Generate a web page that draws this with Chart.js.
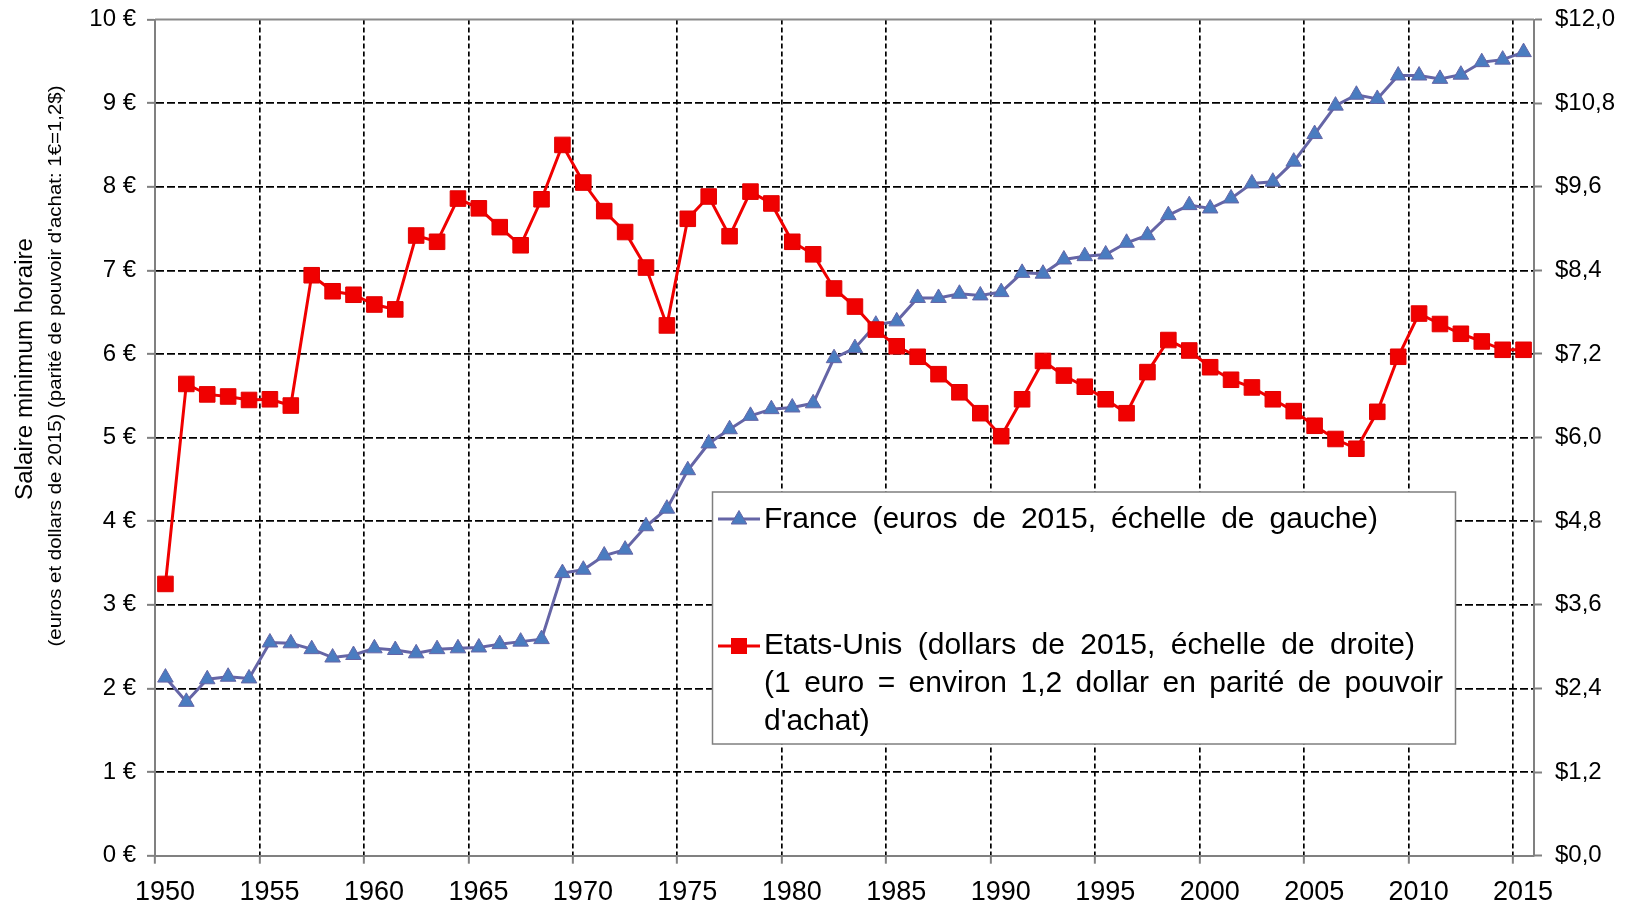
<!DOCTYPE html>
<html>
<head>
<meta charset="utf-8">
<script src="https://cdn.jsdelivr.net/npm/chart.js@4.4.1/dist/chart.umd.min.js"></script>
<style>
  html, body { margin: 0; padding: 0; background: #fff; }
  #wrap { width: 1628px; height: 906px; }
</style>
</head>
<body>
<div id="wrap"><canvas id="chart" width="1628" height="906"></canvas></div>
<script>
// années
const years = [
  1950, 1951, 1952, 1953, 1954, 1955, 1956, 1957, 1958, 1959,
  1960, 1961, 1962, 1963, 1964, 1965, 1966, 1967, 1968, 1969,
  1970, 1971, 1972, 1973, 1974, 1975, 1976, 1977, 1978, 1979,
  1980, 1981, 1982, 1983, 1984, 1985, 1986, 1987, 1988, 1989,
  1990, 1991, 1992, 1993, 1994, 1995, 1996, 1997, 1998, 1999,
  2000, 2001, 2002, 2003, 2004, 2005, 2006, 2007, 2008, 2009,
  2010, 2011, 2012, 2013, 2014, 2015
];

// France, euros de 2015 (échelle de gauche)
const franceEuros = [
  2.13, 1.84, 2.11, 2.14, 2.12, 2.55, 2.54, 2.47, 2.37, 2.40,
  2.48, 2.46, 2.42, 2.47, 2.48, 2.49, 2.53, 2.56, 2.59, 3.38,
  3.42, 3.59, 3.66, 3.94, 4.15, 4.61, 4.93, 5.10, 5.26, 5.34,
  5.36, 5.41, 5.95, 6.07, 6.35, 6.39, 6.67, 6.67, 6.72, 6.70,
  6.74, 6.97, 6.96, 7.13, 7.17, 7.19, 7.33, 7.42, 7.66, 7.78,
  7.74, 7.86, 8.04, 8.06, 8.30, 8.63, 8.97, 9.10, 9.05, 9.33,
  9.33, 9.29, 9.34, 9.49, 9.52, 9.61
];

// Etats-Unis, dollars de 2015 (échelle de droite)
const usDollars = [
  3.90, 6.77, 6.62, 6.59, 6.54, 6.55, 6.46, 8.33, 8.10, 8.05,
  7.91, 7.84, 8.90, 8.81, 9.43, 9.29, 9.02, 8.76, 9.42, 10.20,
  9.66, 9.25, 8.95, 8.44, 7.61, 9.14, 9.46, 8.89, 9.53, 9.36,
  8.81, 8.63, 8.14, 7.88, 7.55, 7.31, 7.16, 6.91, 6.65, 6.35,
  6.02, 6.55, 7.10, 6.89, 6.73, 6.55, 6.35, 6.94, 7.40, 7.25,
  7.01, 6.83, 6.72, 6.55, 6.38, 6.17, 5.98, 5.84, 6.37, 7.16,
  7.78, 7.63, 7.49, 7.38, 7.26, 7.26
];

// graduations
const yearTicks = [1950, 1955, 1960, 1965, 1970, 1975, 1980, 1985, 1990, 1995, 2000, 2005, 2010, 2015];
const euroTicks = [0, 1, 2, 3, 4, 5, 6, 7, 8, 9, 10];
const dollarTicks = [0, 1.2, 2.4, 3.6, 4.8, 6.0, 7.2, 8.4, 9.6, 10.8, 12.0];

const titleMain = 'Salaire minimum horaire';
const titleSub = "(euros et dollars de 2015) (parité de pouvoir d'achat: 1€=1,2$)";
const legendFrance = 'France (euros de 2015, échelle de gauche)';
const legendUS = [
  'Etats-Unis (dollars de 2015, échelle de droite)',
  '(1 euro = environ 1,2 dollar en parité de pouvoir',
  "d'achat)"
];

const FONT = '"Liberation Sans", Arial, sans-serif';
const FRANCE_LINE = '#6565a6';
const FRANCE_FILL = '#4a7cc0';
const US_RED = '#f00000';

// chaque point est placé au milieu de son année
const francePoints = years.map((yr, i) => ({ x: yr + 0.5, y: franceEuros[i] }));
const usPoints = years.map((yr, i) => ({ x: yr + 0.5, y: usDollars[i] }));

function justify(ctx, text, x, y, width) {
  const words = text.split(' ');
  const widths = words.map(w => ctx.measureText(w).width);
  const total = widths.reduce((a, b) => a + b, 0);
  const gap = words.length > 1 ? (width - total) / (words.length - 1) : 0;
  let cx = x;
  words.forEach((w, i) => {
    ctx.fillText(w, cx, y);
    cx += widths[i] + gap;
  });
}

// texte vertical étiré à une longueur donnée
function verticalText(ctx, text, cx, cy, size, length) {
  ctx.save();
  ctx.fillStyle = '#000';
  ctx.textAlign = 'center';
  ctx.textBaseline = 'middle';
  ctx.translate(cx, cy);
  ctx.rotate(-Math.PI / 2);
  ctx.font = size + 'px ' + FONT;
  const w = ctx.measureText(text).width;
  ctx.scale(length / w, 1);
  ctx.fillText(text, 0, 0);
  ctx.restore();
}

// les axes verticaux ne réservent pas de marge pour leurs étiquettes
function fitVertical(width) {
  return s => {
    s.width = width;
    s.paddingTop = 0;
    s.paddingBottom = 0;
  };
}

// titres de l'axe, cadre et légende
const decorations = {
  id: 'decorations',
  afterDraw(chart) {
    const ctx = chart.ctx;
    const area = chart.chartArea;

    // bord supérieur
    ctx.save();
    ctx.strokeStyle = '#8a8a8a';
    ctx.lineWidth = 2;
    ctx.beginPath();
    ctx.moveTo(area.left, area.top);
    ctx.lineTo(area.right, area.top);
    ctx.stroke();
    ctx.restore();

    verticalText(ctx, titleMain, 26, 369, 23, 262);
    verticalText(ctx, titleSub, 56, 366, 18, 561);

    // légende
    const box = { x: 712.5, y: 492, w: 743, h: 252 };
    ctx.save();
    ctx.fillStyle = '#fff';
    ctx.fillRect(box.x, box.y, box.w, box.h);
    ctx.strokeStyle = '#7f7f7f';
    ctx.lineWidth = 1.5;
    ctx.strokeRect(box.x, box.y, box.w, box.h);

    // échantillon France
    ctx.strokeStyle = FRANCE_LINE;
    ctx.lineWidth = 3;
    ctx.beginPath();
    ctx.moveTo(718, 519);
    ctx.lineTo(760, 519);
    ctx.stroke();
    ctx.fillStyle = FRANCE_FILL;
    ctx.lineWidth = 1;
    ctx.beginPath();
    ctx.moveTo(739, 510.5);
    ctx.lineTo(746.8, 524);
    ctx.lineTo(731.2, 524);
    ctx.closePath();
    ctx.fill();
    ctx.stroke();

    // échantillon Etats-Unis
    ctx.strokeStyle = US_RED;
    ctx.lineWidth = 3;
    ctx.beginPath();
    ctx.moveTo(718, 646);
    ctx.lineTo(760, 646);
    ctx.stroke();
    ctx.fillStyle = US_RED;
    ctx.fillRect(731, 638, 16, 16);

    ctx.fillStyle = '#000';
    ctx.font = '30px ' + FONT;
    ctx.textBaseline = 'middle';
    ctx.textAlign = 'left';
    justify(ctx, legendFrance, 764, 520, 614);
    justify(ctx, legendUS[0], 764, 646, 651);
    justify(ctx, legendUS[1], 764, 684, 679);
    ctx.fillText(legendUS[2], 764, 722);
    ctx.restore();
  }
};

new Chart(document.getElementById('chart'), {
  type: 'line',
  data: {
    datasets: [
      {
        label: legendFrance,
        data: francePoints,
        yAxisID: 'y',
        order: 1,
        borderColor: FRANCE_LINE,
        borderWidth: 3,
        pointStyle: 'triangle',
        pointRadius: 9,
        pointBackgroundColor: FRANCE_FILL,
        pointBorderColor: FRANCE_LINE,
        pointBorderWidth: 1,
        tension: 0
      },
      {
        label: legendUS[0],
        data: usPoints,
        yAxisID: 'y2',
        order: 0,
        borderColor: US_RED,
        borderWidth: 3,
        pointStyle: 'rect',
        pointRadius: 11,
        pointBackgroundColor: US_RED,
        pointBorderColor: '#e00000',
        pointBorderWidth: 1,
        tension: 0
      }
    ]
  },
  options: {
    responsive: false,
    animation: false,
    events: [],
    layout: { padding: { top: 19.5, left: 0, right: 0, bottom: 0 } },
    plugins: {
      legend: { display: false },
      tooltip: { enabled: false }
    },
    scales: {
      x: {
        type: 'linear',
        min: 1950,
        max: 2016,
        afterBuildTicks: s => { s.ticks = yearTicks.map(v => ({ value: v })); },
        afterFit: s => {
          s.height = 50.3;
          s.paddingLeft = 0;
          s.paddingRight = 0;
        },
        grid: {
          color: c => (c.tick && c.tick.value === 1950) ? 'rgba(0,0,0,0)' : '#000',
          lineWidth: 1.7,
          tickLength: 8,
          tickColor: '#808080',
          tickWidth: 2,
          tickBorderDash: []
        },
        border: { color: '#808080', width: 2, dash: [5, 3] },
        ticks: {
          color: '#000',
          font: { family: FONT, size: 27 },
          labelOffset: 10,
          padding: 13,
          maxRotation: 0,
          autoSkip: false,
          callback: v => String(v)
        }
      },
      y: {
        position: 'left',
        min: 0,
        max: 10,
        afterBuildTicks: s => { s.ticks = euroTicks.map(v => ({ value: v })); },
        afterFit: fitVertical(155),
        grid: {
          color: c => (c.tick && (c.tick.value === 0 || c.tick.value === 10)) ? 'rgba(0,0,0,0)' : '#000',
          lineWidth: 1.7,
          tickLength: 8,
          tickColor: '#808080',
          tickWidth: 2,
          tickBorderDash: []
        },
        border: { color: '#808080', width: 2, dash: [8, 3] },
        ticks: {
          color: '#000',
          font: { family: FONT, size: 24 },
          padding: 11,
          callback: v => v + ' €'
        }
      },
      y2: {
        position: 'right',
        min: 0,
        max: 12,
        afterBuildTicks: s => { s.ticks = dollarTicks.map(v => ({ value: v })); },
        afterFit: fitVertical(94),
        grid: {
          drawOnChartArea: false,
          tickLength: 8,
          tickColor: '#808080',
          tickWidth: 2,
          tickBorderDash: []
        },
        border: { color: '#808080', width: 2 },
        ticks: {
          color: '#000',
          font: { family: FONT, size: 24 },
          padding: 13,
          callback: v => '$' + v.toFixed(1).replace('.', ',')
        }
      }
    }
  },
  plugins: [decorations]
});
</script>
</body>
</html>
